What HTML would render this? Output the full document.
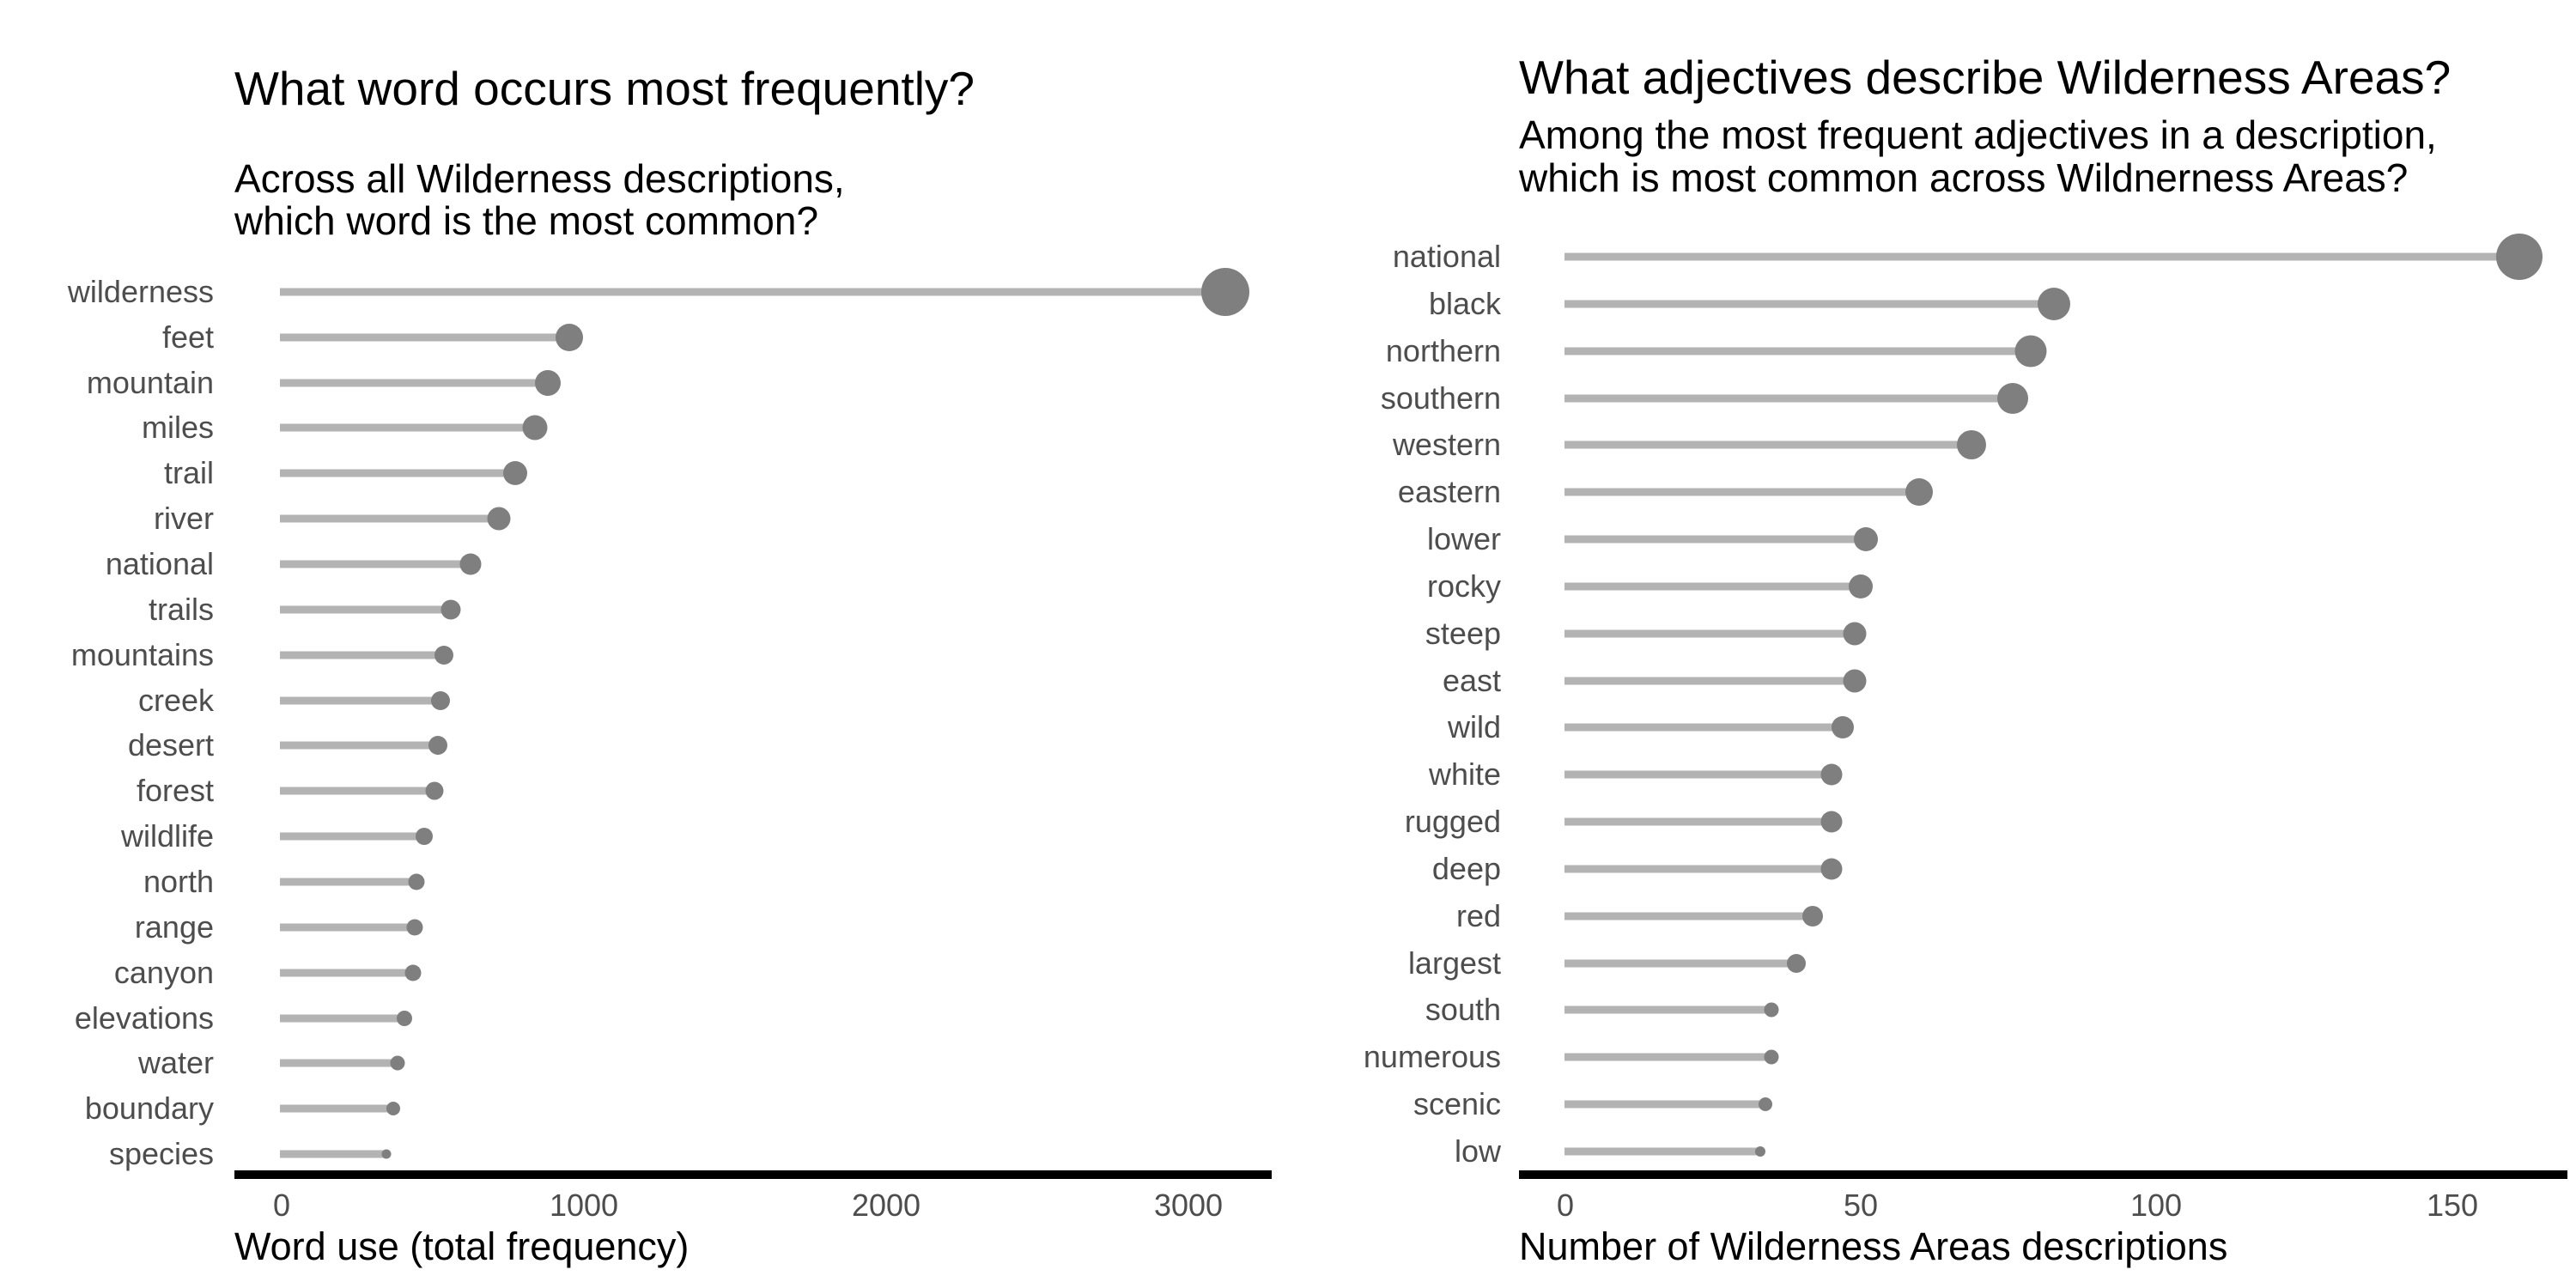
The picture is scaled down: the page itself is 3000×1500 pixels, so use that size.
<!DOCTYPE html>
<html><head><meta charset="utf-8"><style>html,body{margin:0;padding:0;background:#fff}svg{display:block}</style></head>
<body>
<svg width="3000" height="1500" viewBox="0 0 3000 1500" xmlns="http://www.w3.org/2000/svg" font-family="Liberation Sans, Arial, sans-serif">
<rect width="3000" height="1500" fill="#fff"/>
<text x="273" y="122" font-size="55" fill="#000">What word occurs most frequently?</text>
<text x="273" y="224" font-size="46" fill="#000">Across all Wilderness descriptions,</text>
<text x="273" y="273" font-size="46" fill="#000">which word is the most common?</text>
<rect x="273" y="1363" width="1208" height="10" fill="#000"/>
<g font-size="36" fill="#4d4d4d" text-anchor="middle">
<text x="328" y="1416">0</text><text x="680" y="1416">1000</text><text x="1032" y="1416">2000</text><text x="1384" y="1416">3000</text>
</g>
<text x="273" y="1467" font-size="45" fill="#000">Word use (total frequency)</text>
<text x="1769" y="109" font-size="55" fill="#000">What adjectives describe Wilderness Areas?</text>
<text x="1769" y="173" font-size="46" fill="#000">Among the most frequent adjectives in a description,</text>
<text x="1769" y="223" font-size="46" fill="#000">which is most common across Wildnerness Areas?</text>
<rect x="1769" y="1363" width="1221" height="10" fill="#000"/>
<g font-size="36" fill="#4d4d4d" text-anchor="middle">
<text x="1823" y="1416">0</text><text x="2167" y="1416">50</text><text x="2511" y="1416">100</text><text x="2856" y="1416">150</text>
</g>
<text x="1769" y="1467" font-size="45" fill="#000">Number of Wilderness Areas descriptions</text>

<g font-size="36" fill="#4d4d4d" text-anchor="end">
<text x="249" y="352">wilderness</text><text x="249" y="405">feet</text><text x="249" y="458">mountain</text><text x="249" y="510">miles</text><text x="249" y="563">trail</text><text x="249" y="616">river</text><text x="249" y="669">national</text><text x="249" y="722">trails</text><text x="249" y="775">mountains</text><text x="249" y="828">creek</text><text x="249" y="880">desert</text><text x="249" y="933">forest</text><text x="249" y="986">wildlife</text><text x="249" y="1039">north</text><text x="249" y="1092">range</text><text x="249" y="1145">canyon</text><text x="249" y="1198">elevations</text><text x="249" y="1250">water</text><text x="249" y="1303">boundary</text><text x="249" y="1356">species</text>
</g>
<g stroke="#b3b3b3" stroke-width="9">
<line x1="326" x2="1427" y1="340" y2="340"/><line x1="326" x2="663" y1="393" y2="393"/><line x1="326" x2="638" y1="446" y2="446"/><line x1="326" x2="623" y1="498" y2="498"/><line x1="326" x2="600" y1="551" y2="551"/><line x1="326" x2="581" y1="604" y2="604"/><line x1="326" x2="548" y1="657" y2="657"/><line x1="326" x2="525" y1="710" y2="710"/><line x1="326" x2="517" y1="763" y2="763"/><line x1="326" x2="513" y1="816" y2="816"/><line x1="326" x2="510" y1="868" y2="868"/><line x1="326" x2="506" y1="921" y2="921"/><line x1="326" x2="494" y1="974" y2="974"/><line x1="326" x2="485" y1="1027" y2="1027"/><line x1="326" x2="483" y1="1080" y2="1080"/><line x1="326" x2="481" y1="1133" y2="1133"/><line x1="326" x2="471" y1="1186" y2="1186"/><line x1="326" x2="463" y1="1238" y2="1238"/><line x1="326" x2="458" y1="1291" y2="1291"/><line x1="326" x2="450" y1="1344" y2="1344"/>
</g>
<g fill="#7f7f7f">
<circle cx="1427" cy="340" r="28"/><circle cx="663" cy="393" r="16"/><circle cx="638" cy="446" r="15"/><circle cx="623" cy="498" r="14.5"/><circle cx="600" cy="551" r="14"/><circle cx="581" cy="604" r="13.5"/><circle cx="548" cy="657" r="12.5"/><circle cx="525" cy="710" r="11.5"/><circle cx="517" cy="763" r="11"/><circle cx="513" cy="816" r="11"/><circle cx="510" cy="868" r="11"/><circle cx="506" cy="921" r="10.5"/><circle cx="494" cy="974" r="10"/><circle cx="485" cy="1027" r="9.5"/><circle cx="483" cy="1080" r="9.5"/><circle cx="481" cy="1133" r="9.5"/><circle cx="471" cy="1186" r="9"/><circle cx="463" cy="1238" r="8.5"/><circle cx="458" cy="1291" r="8"/><circle cx="450" cy="1344" r="5.5"/>
</g>

<g font-size="36" fill="#4d4d4d" text-anchor="end">
<text x="1748" y="311">national</text><text x="1748" y="366">black</text><text x="1748" y="421">northern</text><text x="1748" y="476">southern</text><text x="1748" y="530">western</text><text x="1748" y="585">eastern</text><text x="1748" y="640">lower</text><text x="1748" y="695">rocky</text><text x="1748" y="750">steep</text><text x="1748" y="805">east</text><text x="1748" y="859">wild</text><text x="1748" y="914">white</text><text x="1748" y="969">rugged</text><text x="1748" y="1024">deep</text><text x="1748" y="1079">red</text><text x="1748" y="1134">largest</text><text x="1748" y="1188">south</text><text x="1748" y="1243">numerous</text><text x="1748" y="1298">scenic</text><text x="1748" y="1353">low</text>
</g>
<g stroke="#b3b3b3" stroke-width="9">
<line x1="1822" x2="2934" y1="299" y2="299"/><line x1="1822" x2="2392" y1="354" y2="354"/><line x1="1822" x2="2365" y1="409" y2="409"/><line x1="1822" x2="2344" y1="464" y2="464"/><line x1="1822" x2="2296" y1="518" y2="518"/><line x1="1822" x2="2235" y1="573" y2="573"/><line x1="1822" x2="2173" y1="628" y2="628"/><line x1="1822" x2="2167" y1="683" y2="683"/><line x1="1822" x2="2160" y1="738" y2="738"/><line x1="1822" x2="2160" y1="793" y2="793"/><line x1="1822" x2="2146" y1="847" y2="847"/><line x1="1822" x2="2133" y1="902" y2="902"/><line x1="1822" x2="2133" y1="957" y2="957"/><line x1="1822" x2="2133" y1="1012" y2="1012"/><line x1="1822" x2="2111" y1="1067" y2="1067"/><line x1="1822" x2="2092" y1="1122" y2="1122"/><line x1="1822" x2="2063" y1="1176" y2="1176"/><line x1="1822" x2="2063" y1="1231" y2="1231"/><line x1="1822" x2="2056" y1="1286" y2="1286"/><line x1="1822" x2="2050" y1="1341" y2="1341"/>
</g>
<g fill="#7f7f7f">
<circle cx="2934" cy="299" r="27"/><circle cx="2392" cy="354" r="19"/><circle cx="2365" cy="409" r="18.5"/><circle cx="2344" cy="464" r="18"/><circle cx="2296" cy="518" r="17"/><circle cx="2235" cy="573" r="16"/><circle cx="2173" cy="628" r="14"/><circle cx="2167" cy="683" r="14"/><circle cx="2160" cy="738" r="13.5"/><circle cx="2160" cy="793" r="13.5"/><circle cx="2146" cy="847" r="13"/><circle cx="2133" cy="902" r="12.5"/><circle cx="2133" cy="957" r="12.5"/><circle cx="2133" cy="1012" r="12.5"/><circle cx="2111" cy="1067" r="12"/><circle cx="2092" cy="1122" r="11"/><circle cx="2063" cy="1176" r="8.5"/><circle cx="2063" cy="1231" r="8.5"/><circle cx="2056" cy="1286" r="8"/><circle cx="2050" cy="1341" r="6"/>
</g>
</svg>
</body></html>
